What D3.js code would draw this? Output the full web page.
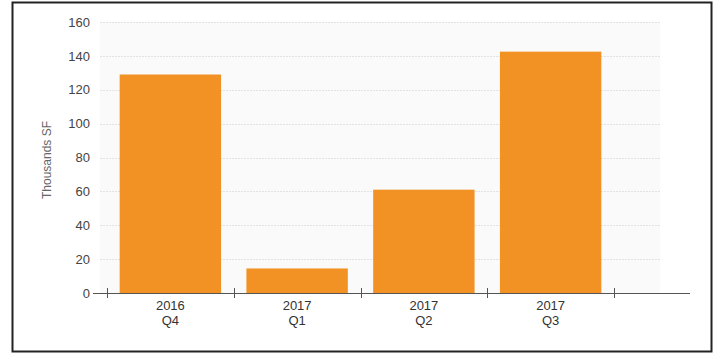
<!DOCTYPE html>
<html><head><meta charset="utf-8">
<script src="https://cdn.jsdelivr.net/npm/d3@7"></script>
<style>body{margin:0;background:#fff;} svg{display:block;}</style>
</head><body>
<script>
const categories = ["2016 Q4", "2017 Q1", "2017 Q2", "2017 Q3"];
const values = [129, 14.5, 61, 142.5];
const yTicks = [0, 20, 40, 60, 80, 100, 120, 140, 160];
const yLabel = "Thousands SF";

const W = 716, H = 354;
const svg = d3.select("body").append("svg").attr("width", W).attr("height", H);

// outer frame
svg.append("rect").attr("x", 12.5).attr("y", 2.5).attr("width", 699).attr("height", 349)
  .attr("fill", "#fff").attr("stroke", "#222").attr("stroke-width", 2);

const x = d3.scaleBand().domain(categories).range([107, 614]).paddingInner(0.2).paddingOuter(0.1);
const y = d3.scaleLinear().domain([0, 160]).range([293, 22]);

// faint plot background
svg.append("rect").attr("x", 100).attr("y", y(160)).attr("width", 560).attr("height", y(0) - y(160))
  .attr("fill", "#fafafa");

// gridlines
svg.append("g").selectAll("line").data(yTicks.filter(d => d > 0)).join("line")
  .attr("x1", 100).attr("x2", 660)
  .attr("y1", d => Math.round(y(d)) + 0.5).attr("y2", d => Math.round(y(d)) + 0.5)
  .attr("stroke", "#e2e2e2").attr("stroke-width", 1).attr("stroke-dasharray", "2,1");

// bars
svg.append("g").selectAll("rect").data(categories).join("rect")
  .attr("x", d => x(d)).attr("width", x.bandwidth())
  .attr("y", (d, i) => y(values[i])).attr("height", (d, i) => y(0) - y(values[i]))
  .attr("fill", "#f39224");

// y axis labels
const yAxis = d3.axisLeft(y).tickValues(yTicks).tickSize(0).tickPadding(0);
const gy = svg.append("g").attr("transform", "translate(90,0)").call(yAxis);
gy.select(".domain").remove();
gy.selectAll("text").attr("font-family", "Liberation Sans, Arial, sans-serif").attr("font-size", 13).attr("fill", "#444");

// baseline
svg.append("line").attr("x1", 93).attr("x2", 690).attr("y1", y(0) + 0.5).attr("y2", y(0) + 0.5)
  .attr("stroke", "#555").attr("stroke-width", 1.2);

// x axis ticks at band boundaries
const step = x.step();
const bounds = categories.map(c => x(c) - step * x.paddingInner() / 2);
bounds.push(bounds[bounds.length - 1] + step);
svg.append("g").selectAll("line").data(bounds).join("line")
  .attr("x1", d => Math.round(d) + 0.5).attr("x2", d => Math.round(d) + 0.5)
  .attr("y1", y(0) - 5).attr("y2", y(0) + 5)
  .attr("stroke", "#555").attr("stroke-width", 1);

// x labels (two lines)
const gx = svg.append("g");
categories.forEach(c => {
  const parts = c.split(" ");
  const t = gx.append("text").attr("x", x(c) + x.bandwidth() / 2).attr("y", 310)
    .attr("text-anchor", "middle").attr("font-family", "Liberation Sans, Arial, sans-serif")
    .attr("font-size", 13).attr("fill", "#333");
  t.append("tspan").attr("x", x(c) + x.bandwidth() / 2).attr("dy", 0).text(parts[0]);
  t.append("tspan").attr("x", x(c) + x.bandwidth() / 2).attr("dy", 15).text(parts[1]);
});

// y label
svg.append("text").attr("transform", "translate(51,160) rotate(-90)")
  .attr("text-anchor", "middle").attr("font-family", "Liberation Sans, Arial, sans-serif")
  .attr("font-size", 12).attr("fill", "#666").text(yLabel);
</script>
</body></html>
